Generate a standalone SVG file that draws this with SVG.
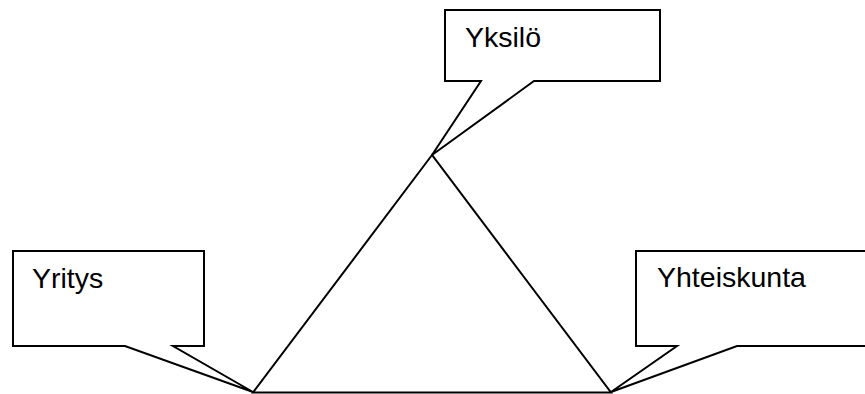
<svg xmlns="http://www.w3.org/2000/svg" width="865" height="394" viewBox="0 0 865 394">
<style>
.c{fill:#fff;stroke:#000;stroke-width:2;stroke-linejoin:miter}
.e{fill:none;stroke:#000;stroke-width:2}
.t{font-family:"Liberation Sans",Arial,sans-serif;font-size:28.5px;fill:#000}
</style>
<rect width="865" height="394" fill="#fff"/>
<g id="connectors">
<path class="e" d="M432,155 L253,392.5 L611,392.5 Z"/>
</g>
<g id="yksilo">
<path class="c" d="M445,10 H660 V81 H534 L432,155 L481,81 H445 Z"/>
<text class="t" x="465" y="47">Yksilö</text>
</g>
<g id="yritys">
<path class="c" d="M13,251 H204 V346 H173 L253,392 L125,346 H13 Z"/>
<text class="t" x="32" y="288">Yritys</text>
</g>
<g id="yhteiskunta">
<path class="c" d="M636,251 H870 V346 H737 L611,392 L677,346 H636 Z"/>
<text class="t" x="657" y="287">Yhteiskunta</text>
</g>
</svg>
